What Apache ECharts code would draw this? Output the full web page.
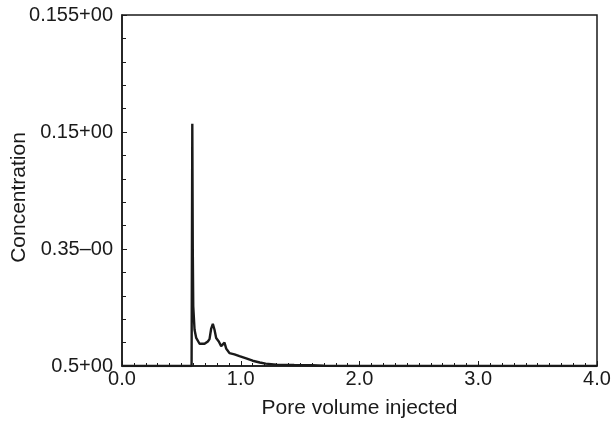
<!DOCTYPE html>
<html>
<head>
<meta charset="utf-8">
<script src="https://cdn.jsdelivr.net/npm/echarts@6/dist/echarts.min.js"></script>
<style>
  html, body { margin: 0; padding: 0; background: #fff; }
  #chart { width: 612px; height: 423px; }
</style>
</head>
<body>
<div id="chart"></div>
<script>
// Effluent concentration history versus pore volumes injected
const poreVolume = [0, 0.30, 0.586, 0.592, 0.596, 0.600, 0.611, 0.625, 0.653, 0.695, 0.723, 0.737, 0.751, 0.765, 0.779, 0.793, 0.815, 0.835, 0.863, 0.877, 0.905, 0.947, 0.989, 1.046, 1.10, 1.16, 1.21, 1.30, 1.45, 1.60, 1.70, 2.0, 3.0, 4.0];
const concentration = [0, 0, 0, 2.07, 1.0, 0.51, 0.31, 0.24, 0.19, 0.19, 0.21, 0.23, 0.32, 0.36, 0.31, 0.24, 0.21, 0.17, 0.20, 0.15, 0.11, 0.10, 0.085, 0.065, 0.045, 0.03, 0.02, 0.012, 0.008, 0.006, 0.002, 0, 0, 0];
const xTickLabels = ['0.0', '1.0', '2.0', '3.0', '4.0'];
const yTickLabels = ['0.5+00', '0.35\u201300', '0.15+00', '0.155+00'];

const font = 'Liberation Sans, Arial, Helvetica, sans-serif';
const ink = '#1a1a1a';

const chart = echarts.init(document.getElementById('chart'));
chart.setOption({
  animation: false,
  backgroundColor: '#fff',
  grid: {
    left: 122, right: 15, top: 15, bottom: 57,
    containLabel: false, outerBoundsMode: 'none',
    show: true, borderColor: ink, borderWidth: 1.5, backgroundColor: 'transparent'
  },
  xAxis: {
    type: 'value', min: 0, max: 4, interval: 1,
    name: 'Pore volume injected', nameLocation: 'middle', nameGap: 32,
    nameMoveOverlap: false,
    nameTextStyle: { fontFamily: font, fontSize: 21, color: ink },
    axisLine: { show: true, lineStyle: { color: ink, width: 1.5 } },
    axisTick: { show: true, inside: true, length: 5, lineStyle: { color: ink, width: 1 } },
    minorTick: { show: true, splitNumber: 10, length: 3, lineStyle: { color: ink, width: 1 } },
    splitLine: { show: false },
    axisLabel: {
      fontFamily: font, fontSize: 20, color: ink, margin: 3,
      formatter: v => xTickLabels[Math.round(v)]
    }
  },
  yAxis: {
    type: 'value', min: 0, max: 3, interval: 1,
    name: 'Concentration', nameLocation: 'middle', nameGap: 92,
    nameMoveOverlap: false,
    nameTextStyle: { fontFamily: font, fontSize: 21, color: ink, padding: [0, 14, 0, 0] },
    axisLine: { show: true, lineStyle: { color: ink, width: 1.5 } },
    axisTick: { show: true, inside: true, length: 5, lineStyle: { color: ink, width: 1 } },
    minorTick: { show: true, splitNumber: 5, length: 4, lineStyle: { color: ink, width: 1 } },
    splitLine: { show: false },
    axisLabel: {
      fontFamily: font, fontSize: 20, color: ink, margin: 9,
      formatter: v => yTickLabels[Math.round(v)]
    }
  },
  series: [{
    type: 'line',
    data: poreVolume.map((x, i) => [x, concentration[i]]),
    showSymbol: false,
    smooth: false,
    lineStyle: { color: ink, width: 2.4 },
    clip: true
  }]
});
</script>
</body>
</html>
